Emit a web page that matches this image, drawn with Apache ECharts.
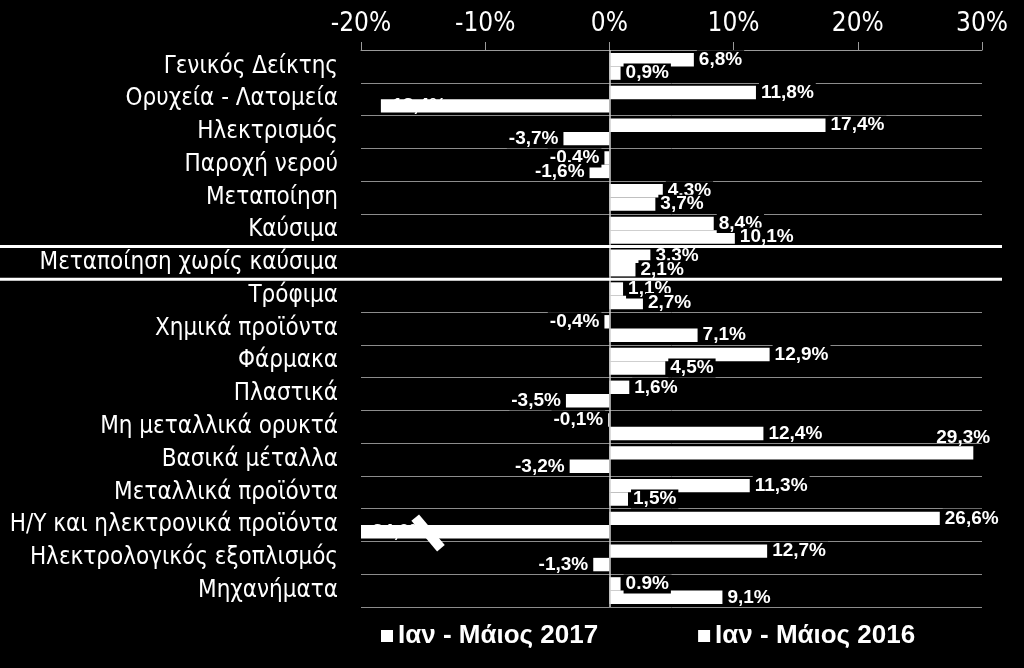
<!DOCTYPE html>
<html>
<head>
<meta charset="utf-8">
<style>
  html, body { margin: 0; padding: 0; background: #000; }
  #chart { width: 1024px; height: 668px; }
</style>
<script src="https://cdn.jsdelivr.net/npm/echarts@6/dist/echarts.min.js"></script>
</head>
<body>
<div id="chart"></div>
<script>
// ---- data ----
const categories = [
  'Γενικός Δείκτης', 'Ορυχεία - Λατομεία', 'Ηλεκτρισμός', 'Παροχή νερού',
  'Μεταποίηση', 'Καύσιμα', 'Μεταποίηση χωρίς καύσιμα', 'Τρόφιμα',
  'Χημικά προϊόντα', 'Φάρμακα', 'Πλαστικά', 'Μη μεταλλικά ορυκτά',
  'Βασικά μέταλλα', 'Μεταλλικά προϊόντα', 'Η/Υ και ηλεκτρονικά προϊόντα',
  'Ηλεκτρολογικός εξοπλισμός', 'Μηχανήματα'
];
const seriesNames = ['Ιαν - Μάιος 2017', 'Ιαν - Μάιος 2016'];
const values2017 = [6.8, 11.8, 17.4, -0.4, 4.3, 8.4, 3.3, 1.1, -0.4, 12.9, 1.6, -0.1, 29.3, 11.3, 26.6, 12.7, 0.9];
const values2016 = [0.9, -18.4, -3.7, -1.6, 3.7, 10.1, 2.1, 2.7, 7.1, 4.5, -3.5, 12.4, -3.2, 1.5, -34.0, -1.3, 9.1];
const xTicks = { min: -20, max: 30, interval: 10 };
const highlightedCategory = 'Μεταποίηση χωρίς καύσιμα';
const brokenCategory = 'Η/Υ και ηλεκτρονικά προϊόντα';
const dotDecimalLabels2017 = [16]; // label printed with "." in the original

function fmt(v, dot) {
  const s = v.toFixed(1);
  return (dot ? s : s.replace('.', ',')) + '%';
}

function buildData(values, dotIdx) {
  return values.map((v, i) => {
    let pos = v >= 0 ? 'right' : 'left';
    if (v < xTicks.min + 5) pos = 'insideLeft';
    const lbl = {
      position: pos,
      formatter: fmt(v, dotIdx && dotIdx.indexOf(i) >= 0),
      backgroundColor: pos === 'insideLeft' ? 'transparent' : '#000'
    };
    if (v > xTicks.max - 2) {
      lbl.offset = [-42, -15];
      lbl.backgroundColor = 'transparent';
    }
    return { value: v, label: lbl };
  });
}

const labelStyle = {
  show: true,
  color: '#fff',
  fontFamily: 'Liberation Sans, Arial, sans-serif',
  fontWeight: 'bold',
  fontSize: 19,
  distance: 3,
  padding: [0, 2, 0, 2]
};

const chart = echarts.init(document.getElementById('chart'));
const option = {
  backgroundColor: '#000',
  animation: false,
  grid: { left: 361, right: 42, top: 50, bottom: 61 },
  legend: {
    data: seriesNames,
    bottom: 14,
    left: 376,
    itemGap: 100,
    itemWidth: 12,
    itemHeight: 12,
    icon: 'rect',
    textStyle: { color: '#fff', fontSize: 26, fontWeight: 'bold', fontFamily: 'Liberation Sans, Arial, sans-serif' }
  },
  xAxis: {
    type: 'value',
    position: 'top',
    min: xTicks.min,
    max: xTicks.max,
    interval: xTicks.interval,
    axisLine: { show: true, lineStyle: { color: '#9a9a9a', width: 1 } },
    axisTick: { show: true, length: 8, lineStyle: { color: '#9a9a9a' } },
    splitLine: { show: false },
    axisLabel: {
      color: '#fff',
      fontSize: 26,
      margin: 13,
      fontFamily: 'DejaVu Sans Condensed, Liberation Sans, Arial, sans-serif',
      formatter: '{value}%'
    }
  },
  yAxis: {
    type: 'category',
    data: categories,
    inverse: true,
    axisLine: { show: false, onZero: false },
    axisTick: { show: false },
    splitLine: { show: true, lineStyle: { color: '#8c8c8c', width: 1 } },
    axisLabel: {
      color: '#fff',
      fontSize: 24,
      margin: 23,
      fontFamily: 'DejaVu Sans Condensed, Liberation Sans, Arial, sans-serif'
    }
  },
  series: [
    {
      name: seriesNames[0],
      type: 'bar',
      data: buildData(values2017, dotDecimalLabels2017),
      itemStyle: { color: '#fff' },
      barGap: '0%',
      barCategoryGap: '18%',
      label: labelStyle,
      markLine: {
        silent: true,
        symbol: 'none',
        label: { show: false },
        lineStyle: { color: '#cfcfcf', width: 1.5, type: 'solid' },
        data: [{ xAxis: 0 }]
      }
    },
    {
      name: seriesNames[1],
      type: 'bar',
      data: buildData(values2016),
      itemStyle: { color: '#fff' },
      barGap: '0%',
      barCategoryGap: '18%',
      label: labelStyle
    }
  ]
};
chart.setOption(option);

// decorations: full-width separators around the highlighted row and the axis-break mark
const hIdx = categories.indexOf(highlightedCategory);
const c0 = chart.convertToPixel({ yAxisIndex: 0 }, categories[hIdx - 1]);
const c1 = chart.convertToPixel({ yAxisIndex: 0 }, categories[hIdx]);
const c2 = chart.convertToPixel({ yAxisIndex: 0 }, categories[hIdx + 1]);
const yTop = (c0 + c1) / 2;
const yBot = (c1 + c2) / 2;
const bIdx = categories.indexOf(brokenCategory);
const bc = chart.convertToPixel({ yAxisIndex: 0 }, categories[bIdx]);
const bStep = c2 - c1;
const bx = chart.convertToPixel({ xAxisIndex: 0 }, -14.6);
chart.setOption({
  graphic: [
    { type: 'line', shape: { x1: 0, y1: yTop, x2: 1002, y2: yTop }, style: { stroke: '#fff', lineWidth: 3 }, z: 100 },
    { type: 'line', shape: { x1: 0, y1: yBot, x2: 1002, y2: yBot }, style: { stroke: '#fff', lineWidth: 3 }, z: 100 },
    {
      type: 'rect',
      x: bx, y: bc + bStep * 0.24,
      rotation: -Math.PI * 50 / 180 + Math.PI / 2,
      shape: { x: -5, y: -20, width: 10, height: 40 },
      style: { fill: '#fff' },
      z: 100
    }
  ]
});
</script>
</body>
</html>
